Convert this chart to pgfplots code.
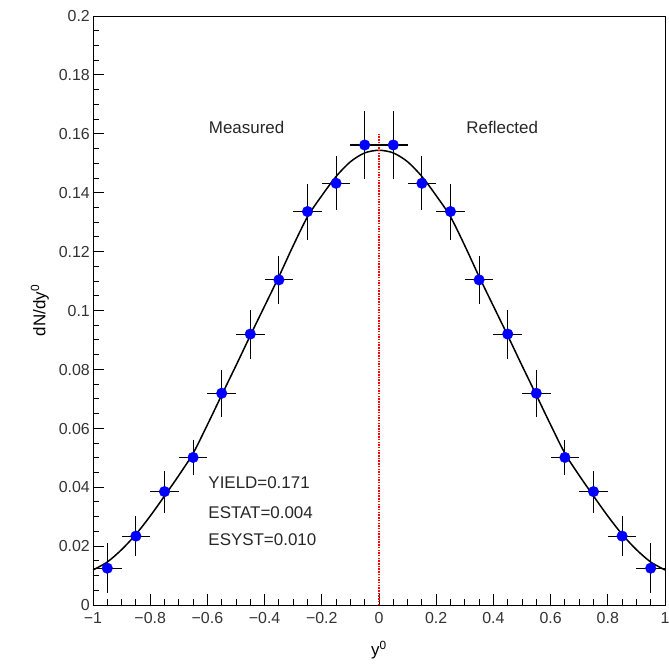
\documentclass[border=0pt]{standalone}
\usepackage{fontspec}
\setmainfont{Liberation Sans}
\usepackage{pgfplots}
\pgfplotsset{compat=1.18}
\usepackage{pgfplotstable}

% measured points: y0, dN/dy0, x error, y error
\pgfplotstableread{
x      y       ex    ey
-0.95  0.0125  0.05  0.0084
-0.85  0.0234  0.05  0.0069
-0.75  0.0385  0.05  0.0071
-0.65  0.0501  0.05  0.0058
-0.55  0.0719  0.05  0.0080
-0.45  0.0920  0.05  0.0083
-0.35  0.1104  0.05  0.0082
-0.25  0.1336  0.05  0.0095
-0.15  0.1432  0.05  0.0092
-0.05  0.1562  0.05  0.0116
}\measured

% reflected points
\pgfplotstableread{
x      y       ex    ey
0.05   0.1562  0.05  0.0116
0.15   0.1432  0.05  0.0092
0.25   0.1336  0.05  0.0095
0.35   0.1104  0.05  0.0082
0.45   0.0920  0.05  0.0083
0.55   0.0719  0.05  0.0080
0.65   0.0501  0.05  0.0058
0.75   0.0385  0.05  0.0071
0.85   0.0234  0.05  0.0069
0.95   0.0125  0.05  0.0084
}\reflected

% fitted curve
\pgfplotstableread{
x      y
-1.00  0.0119
-0.95  0.0146
-0.90  0.0188
-0.85  0.0240
-0.80  0.0302
-0.75  0.0370
-0.70  0.0440
-0.65  0.0515
-0.60  0.0612
-0.55  0.0713
-0.50  0.0813
-0.45  0.0915
-0.40  0.1015
-0.35  0.1115
-0.30  0.1220
-0.25  0.1318
-0.20  0.1390
-0.15  0.1455
-0.10  0.1505
-0.05  0.1535
0.00   0.1544
0.05   0.1535
0.10   0.1505
0.15   0.1455
0.20   0.1390
0.25   0.1318
0.30   0.1220
0.35   0.1115
0.40   0.1015
0.45   0.0915
0.50   0.0813
0.55   0.0713
0.60   0.0612
0.65   0.0515
0.70   0.0440
0.75   0.0370
0.80   0.0302
0.85   0.0240
0.90   0.0188
0.95   0.0146
1.00   0.0119
}\fitcurve

\begin{document}
\begin{tikzpicture}
\path[use as bounding box] (-93bp,-60bp) rectangle (576bp,605bp);
\begin{axis}[
    scale only axis,
    width=572bp, height=589bp,
    xmin=-1, xmax=1,
    ymin=0, ymax=0.2,
    axis line style={line width=0.9bp},
    xtick={-1,-0.8,-0.6,-0.4,-0.2,0,0.2,0.4,0.6,0.8,1},
    xticklabels={−1,−0.8,−0.6,−0.4,−0.2,0,0.2,0.4,0.6,0.8,1},
    ytick={0,0.02,0.04,0.06,0.08,0.1,0.12,0.14,0.16,0.18,0.2},
    yticklabels={0,0.02,0.04,0.06,0.08,0.1,0.12,0.14,0.16,0.18,0.2},
    minor x tick num=3,
    minor y tick num=3,
    xtick pos=bottom, ytick pos=left,
    tick align=inside,
    major tick length=11bp,
    minor tick length=6bp,
    tick style={black, line width=0.9bp},
    ticklabel style={font=\fontsize{16}{18}\selectfont, color=black!80,
        inner sep=0pt, text height=11.5bp, text depth=0pt},
    xticklabel style={yshift=-7bp},
    yticklabel style={xshift=-3bp},
    xlabel={y\textsuperscript{0}},
    ylabel={dN/dy\textsuperscript{0}},
    label style={font=\fontsize{17}{19}\selectfont},
    xlabel style={at={(axis description cs:0.5,-0.0764)}, anchor=center},
    ylabel style={at={(axis description cs:-0.0927,0.5)}, anchor=center},
    clip=true,
]
\addplot[black, line width=1.5bp, smooth] table[x=x, y=y] {\fitcurve};
\addplot[red, dash pattern=on 1.5bp off 1.2bp, line width=1.2bp] coordinates {(0,0) (0,0.16)};
\addplot[only marks, mark=*, mark size=5.3bp,
    mark options={fill=blue, draw=blue},
    error bars/.cd, x dir=both, y dir=both, x explicit, y explicit,
    error mark=none,
    error bar style={black, line width=1.1bp}]
    table[x=x, y=y, x error=ex, y error=ey] {\measured};
\addplot[only marks, mark=*, mark size=5.3bp,
    mark options={fill=blue, draw=blue},
    error bars/.cd, x dir=both, y dir=both, x explicit, y explicit,
    error mark=none,
    error bar style={black, line width=1.1bp}]
    table[x=x, y=y, x error=ex, y error=ey] {\reflected};
\begin{scope}[font=\fontsize{17}{19}\selectfont, color=black!85]
\node at (axis cs:-0.463,0.162) {Measured};
\node at (axis cs:0.431,0.162) {Reflected};
\node[anchor=west, inner sep=0pt] at (axis cs:-0.597,0.0415) {YIELD=0.171};
\node[anchor=west, inner sep=0pt] at (axis cs:-0.597,0.0315) {ESTAT=0.004};
\node[anchor=west, inner sep=0pt] at (axis cs:-0.597,0.0221) {ESYST=0.010};
\end{scope}
\end{axis}
\end{tikzpicture}
\end{document}
